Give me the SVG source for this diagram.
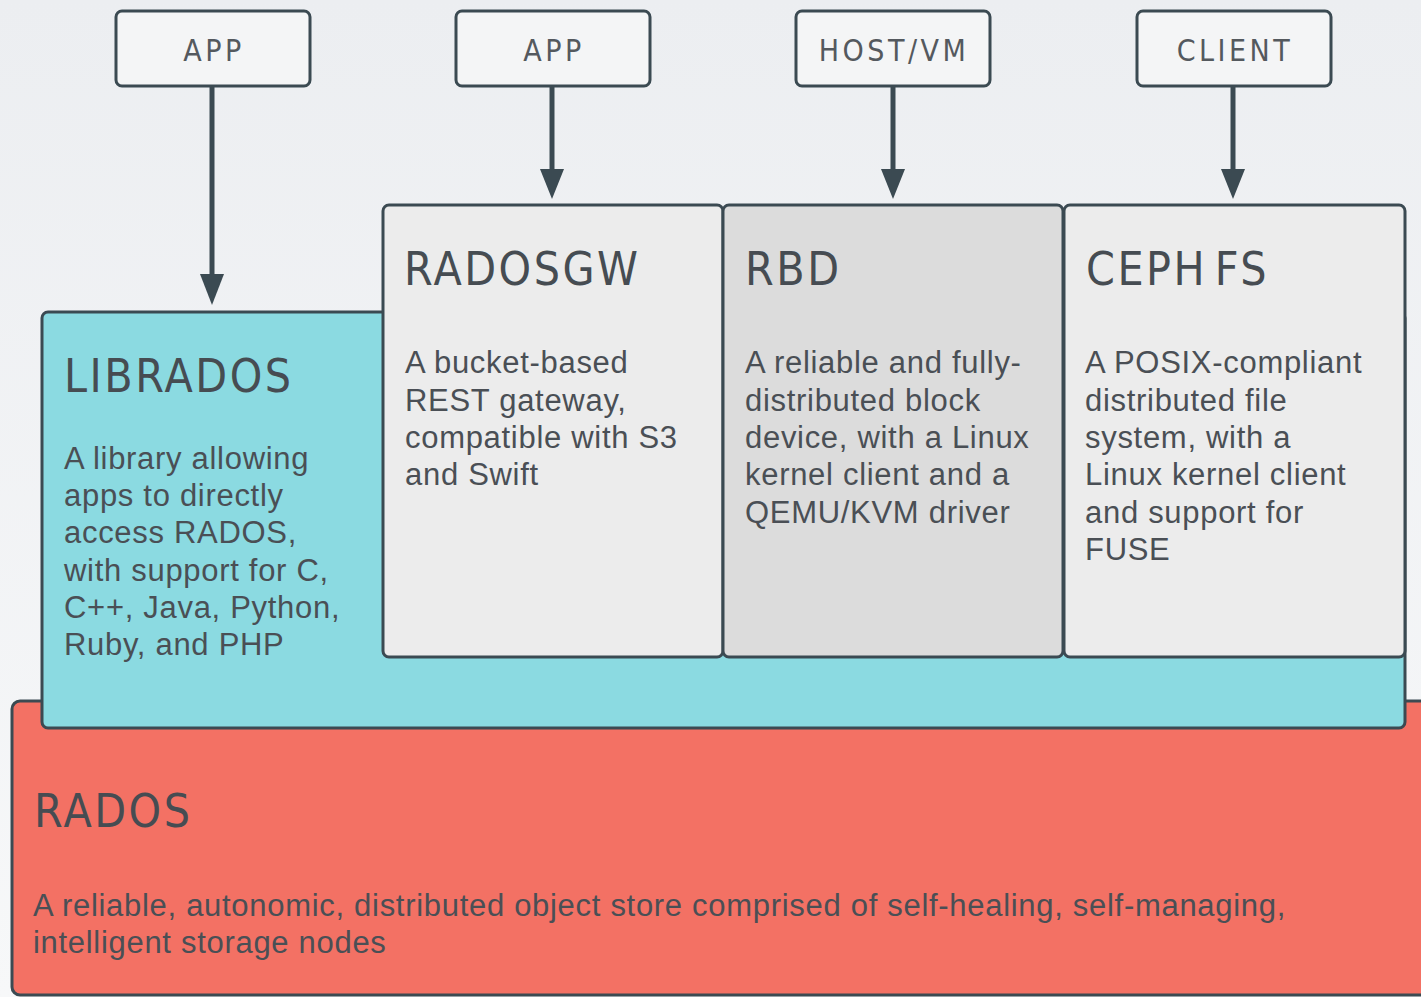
<svg xmlns="http://www.w3.org/2000/svg" width="1421" height="997" viewBox="0 0 1421 997">
<defs>
<linearGradient id="bg" x1="0" y1="0" x2="0" y2="1">
<stop offset="0" stop-color="#eceef1"/>
<stop offset="1" stop-color="#f7f8f9"/>
</linearGradient>
<style>
.box{stroke:#3b4a52;stroke-width:3}
.top{fill:#f4f5f6}
.ln{stroke:#3b4a52;stroke-width:5;fill:none}
.ah{fill:#3b4a52}
.lab{font-family:"DejaVu Sans Condensed","DejaVu Sans",sans-serif;font-size:30px;fill:#54595e;text-anchor:middle;letter-spacing:3.5px}
.h{font-family:"DejaVu Sans Condensed","DejaVu Sans",sans-serif;font-size:46px;fill:#464c52;letter-spacing:2.5px}
.t{font-family:"Liberation Sans",Arial,sans-serif;font-size:31px;fill:#4a4f55;letter-spacing:0.7px}
</style>
</defs>
<rect x="0" y="0" width="1421" height="997" fill="url(#bg)"/>

<g id="rados">
<rect class="box" x="12" y="701" width="1420" height="294" rx="8" fill="#f37164"/>
<text class="h" x="34" y="827">RADOS</text>
<text class="t" x="33" y="916">A reliable, autonomic, distributed object store comprised of self-healing, self-managing,</text>
<text class="t" x="33" y="953">intelligent storage nodes</text>
</g>

<g id="librados">
<rect class="box" x="42" y="312" width="1363" height="416" rx="6" fill="#8bdae1"/>
<text class="h" x="64" y="392">LIBRADOS</text>
<text class="t" x="64" y="469">A library allowing</text>
<text class="t" x="64" y="506">apps to directly</text>
<text class="t" x="64" y="543">access RADOS,</text>
<text class="t" x="64" y="581">with support for C,</text>
<text class="t" x="64" y="618">C++, Java, Python,</text>
<text class="t" x="64" y="655">Ruby, and PHP</text>
</g>

<g id="radosgw">
<rect class="box" x="383" y="205" width="340" height="452" rx="6" fill="#ececec"/>
<text class="h" x="404" y="285">RADOSGW</text>
<text class="t" x="405" y="373">A bucket-based</text>
<text class="t" x="405" y="411">REST gateway,</text>
<text class="t" x="405" y="448">compatible with S3</text>
<text class="t" x="405" y="485">and Swift</text>
</g>

<g id="rbd">
<rect class="box" x="723" y="205" width="340" height="452" rx="6" fill="#dcdcdc"/>
<text class="h" x="745" y="285">RBD</text>
<text class="t" x="745" y="373">A reliable and fully-</text>
<text class="t" x="745" y="411">distributed block</text>
<text class="t" x="745" y="448">device, with a Linux</text>
<text class="t" x="745" y="485">kernel client and a</text>
<text class="t" x="745" y="523">QEMU/KVM driver</text>
</g>

<g id="cephfs">
<rect class="box" x="1064" y="205" width="341" height="452" rx="6" fill="#ececec"/>
<text class="h" x="1086" y="285" word-spacing="-8">CEPH FS</text>
<text class="t" x="1085" y="373">A POSIX-compliant</text>
<text class="t" x="1085" y="411">distributed file</text>
<text class="t" x="1085" y="448">system, with a</text>
<text class="t" x="1085" y="485">Linux kernel client</text>
<text class="t" x="1085" y="523">and support for</text>
<text class="t" x="1085" y="560">FUSE</text>
</g>

<g id="app1">
<rect class="box top" x="116" y="11" width="194" height="75" rx="6"/>
<text class="lab" x="214" y="61">APP</text>
</g>
<g id="app2">
<rect class="box top" x="456" y="11" width="194" height="75" rx="6"/>
<text class="lab" x="554" y="61">APP</text>
</g>
<g id="hostvm">
<rect class="box top" x="796" y="11" width="194" height="75" rx="6"/>
<text class="lab" x="894" y="61">HOST/VM</text>
</g>
<g id="client">
<rect class="box top" x="1137" y="11" width="194" height="75" rx="6"/>
<text class="lab" x="1235" y="61">CLIENT</text>
</g>

<g id="connectors">
<line class="ln" x1="212" y1="86" x2="212" y2="278"/>
<polygon class="ah" points="200,274 224,274 212,305"/>
<line class="ln" x1="552" y1="86" x2="552" y2="172"/>
<polygon class="ah" points="540,169 564,169 552,199"/>
<line class="ln" x1="893" y1="86" x2="893" y2="172"/>
<polygon class="ah" points="881,169 905,169 893,199"/>
<line class="ln" x1="1233" y1="86" x2="1233" y2="172"/>
<polygon class="ah" points="1221,169 1245,169 1233,199"/>
</g>
</svg>
